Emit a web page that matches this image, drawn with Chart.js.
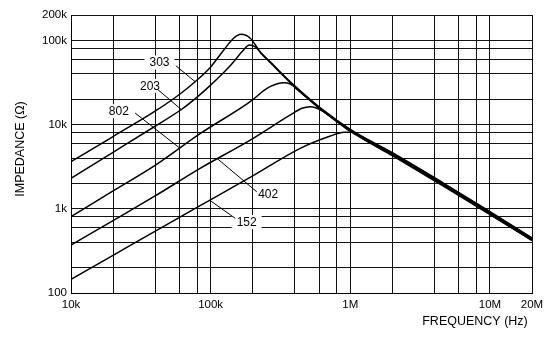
<!DOCTYPE html>
<html>
<head>
<meta charset="utf-8">
<script src="https://cdn.jsdelivr.net/npm/chart.js@4.4.1/dist/chart.umd.min.js"></script>
<style>
  html, body { margin: 0; padding: 0; background: #fff; }
  #wrap { width: 559px; height: 338px; }
</style>
</head>
<body>
<div id="wrap"><canvas id="chart" width="559" height="338"></canvas></div>
<script>
// impedance curves (Hz, ohm)
const freq303 = [1e4, 2e4, 4e4, 6e4, 8e4, 1e5, 1.25e5, 1.46e5, 1.65e5, 1.92e5, 2.26e5, 2.67e5, 3.72e5, 6.1e5, 1e6, 2e6, 5e6, 1e7, 2e7];
const imp303 = [3620, 7210, 14400, 22900, 33800, 48300, 78000, 106000, 118000, 106000, 73300, 55500, 32100, 15800, 8790, 4630, 1875, 925, 452];

const freq203 = [1e4, 2e4, 4e4, 6.2e4, 8e4, 9.9e4, 1.38e5, 1.72e5, 1.89e5, 2.1e5, 2.3e5, 2.67e5, 3.72e5, 6.1e5, 1e6, 2e6, 5e6, 1e7, 2e7];
const imp203 = [2300, 4680, 9550, 15200, 21200, 29000, 50000, 76800, 88000, 83000, 70000, 54500, 31500, 15500, 8620, 4540, 1840, 908, 444];

const freq802 = [1e4, 2e4, 4e4, 8.4e4, 1.92e5, 2.53e5, 3e5, 3.33e5, 3.72e5, 4.2e5, 6.1e5, 1e6, 2e6, 5e6, 1e7, 2e7];
const imp802 = [805, 1630, 3280, 7800, 18700, 26900, 30500, 31400, 30300, 25800, 15200, 8450, 4450, 1800, 890, 435];

const freq402 = [1e4, 2e4, 4e4, 8.4e4, 1.92e5, 3.72e5, 4.5e5, 5.16e5, 6.1e5, 1e6, 2e6, 5e6, 1e7, 2e7];
const imp402 = [371, 723, 1420, 3020, 6550, 13000, 15600, 16300, 15000, 8280, 4360, 1765, 872, 426];

const freq152 = [1e4, 2e4, 4.35e4, 9.9e4, 2e5, 4.38e5, 7.2e5, 9e5, 1.05e6, 1.2e6, 2e6, 5e6, 1e7, 2e7];
const imp152 = [145, 280, 586, 1270, 2455, 5224, 7310, 8100, 8100, 6950, 4270, 1730, 855, 418];

// grid lines and the few that carry a label
const xGrid = [1e4, 2e4, 4e4, 6e4, 8e4, 1e5, 2e5, 4e5, 6e5, 8e5, 1e6, 2e6, 4e6, 6e6, 8e6, 1e7, 2e7];
const xLabelValues = [1e4, 1e5, 1e6, 1e7, 2e7];
const xLabelText = ["10k", "100k", "1M", "10M", "20M"];

const yGrid = [100, 200, 400, 600, 800, 1e3, 2e3, 4e3, 6e3, 8e3, 1e4, 2e4, 4e4, 6e4, 8e4, 1e5, 2e5];
const yLabelValues = [100, 1e3, 1e4, 1e5, 2e5];
const yLabelText = ["100", "1k", "10k", "100k", "200k"];

// part number callouts: text, label centre, leader start, leader end (data coords)
const callouts = [
    { text: "303", at: [43000, 54600], from: [56300, 50000], to: [77400, 32300] },
    { text: "203", at: [36800, 28800], from: [41400, 26400], to: [62200, 14900] },
    { text: "802", at: [22000, 14400], from: [28800, 13700], to: [60400, 5220] },
    { text: "402", at: [258000, 1490], from: [214000, 1590], to: [111000, 3970] },
    { text: "152", at: [181000, 697], from: [150000, 770], to: [98000, 1270] },
];

const FONT = "'Liberation Sans', Arial, Helvetica, sans-serif";
Chart.defaults.font.family = FONT;
Chart.defaults.color = "#000";

function series(freq, imp) {
    return {
        data: freq.map((f, i) => ({ x: f, y: imp[i] })),
        borderColor: "#000",
        borderWidth: 1.5,
        pointRadius: 0,
        fill: false,
        cubicInterpolationMode: "monotone",
    };
}

const calloutPlugin = {
    id: "callouts",
    afterDatasetsDraw(chart) {
        const ctx = chart.ctx;
        const xs = chart.scales.x;
        const ys = chart.scales.y;
        ctx.save();
        ctx.font = "12px " + FONT;
        ctx.textAlign = "center";
        ctx.textBaseline = "middle";
        callouts.forEach((c) => {
            const cx = xs.getPixelForValue(c.at[0]);
            const cy = ys.getPixelForValue(c.at[1]);
            const w = ctx.measureText(c.text).width + 10;
            ctx.fillStyle = "#fff";
            ctx.fillRect(cx - w / 2, cy - 7, w, 14);
            ctx.fillStyle = "#000";
            ctx.fillText(c.text, cx, cy + 0.5);
            ctx.beginPath();
            ctx.moveTo(xs.getPixelForValue(c.from[0]), ys.getPixelForValue(c.from[1]));
            ctx.lineTo(xs.getPixelForValue(c.to[0]), ys.getPixelForValue(c.to[1]));
            ctx.lineWidth = 1;
            ctx.strokeStyle = "#000";
            ctx.stroke();
        });
        ctx.restore();
    },
    afterDraw(chart) {
        const ctx = chart.ctx;
        ctx.save();
        ctx.font = "12.5px " + FONT;
        ctx.fillStyle = "#000";
        ctx.textAlign = "center";
        ctx.textBaseline = "middle";
        ctx.fillText("FREQUENCY (Hz)", 475, 322);
        ctx.translate(21, 149);
        ctx.rotate(-Math.PI / 2);
        ctx.fillText("IMPEDANCE (Ω)", 0, 0);
        ctx.restore();
    },
};

const ctx = document.getElementById("chart").getContext("2d");

new Chart(ctx, {
    type: "line",
    data: {
        datasets: [
            series(freq303, imp303),
            series(freq203, imp203),
            series(freq802, imp802),
            series(freq402, imp402),
            series(freq152, imp152),
        ],
    },
    options: {
        responsive: false,
        animation: false,
        devicePixelRatio: 1,
        layout: {
            padding: { top: 15, right: 27, left: 0, bottom: 0 },
        },
        plugins: {
            legend: { display: false },
            tooltip: { enabled: false },
        },
        scales: {
            x: {
                type: "logarithmic",
                min: 1e4,
                max: 2e7,
                afterBuildTicks: (scale) => {
                    scale.ticks = xGrid.map((v) => ({ value: v }));
                },
                afterFit: (scale) => {
                    scale.height = 45;
                },
                ticks: {
                    autoSkip: false,
                    maxRotation: 0,
                    minRotation: 0,
                    padding: 5,
                    font: { size: 11.5 },
                    callback: (value) => {
                        const i = xLabelValues.indexOf(value);
                        return i >= 0 ? xLabelText[i] : "";
                    },
                },
                grid: {
                    color: "#111",
                    lineWidth: 1,
                    drawTicks: false,
                },
                border: { color: "#000", width: 1 },
            },
            y: {
                type: "logarithmic",
                min: 100,
                max: 2e5,
                afterBuildTicks: (scale) => {
                    scale.ticks = yGrid.map((v) => ({ value: v }));
                },
                afterFit: (scale) => {
                    scale.width = 71;
                },
                ticks: {
                    autoSkip: false,
                    padding: 4,
                    font: { size: 11.5 },
                    callback: (value) => {
                        const i = yLabelValues.indexOf(value);
                        return i >= 0 ? yLabelText[i] : "";
                    },
                },
                grid: {
                    color: "#111",
                    lineWidth: 1,
                    drawTicks: false,
                },
                border: { color: "#000", width: 1 },
            },
        },
    },
    plugins: [calloutPlugin],
});
</script>
</body>
</html>
